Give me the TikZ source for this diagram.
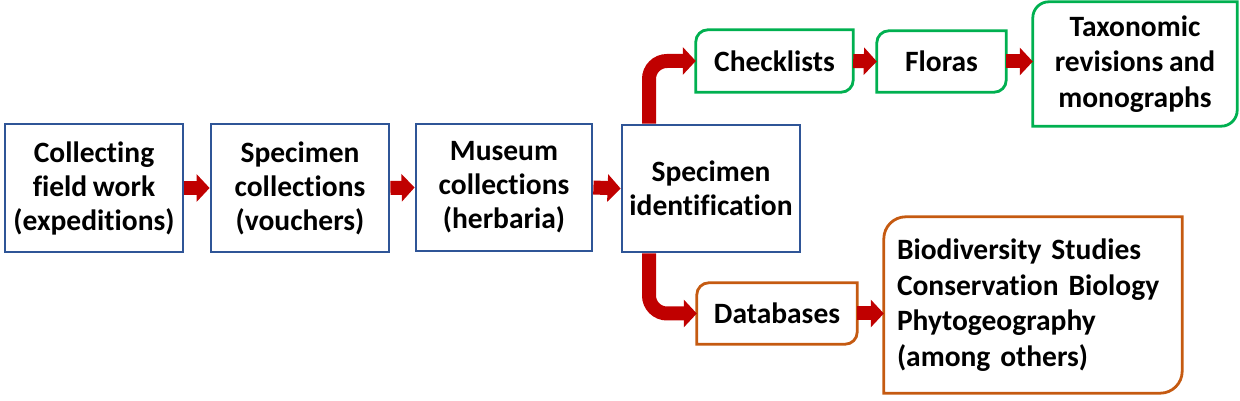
\documentclass[tikz,border=0pt]{standalone}
\usepackage{fontspec}
\setmainfont{Carlito}[Ligatures=NoCommon, WordSpace=0.85]
\usetikzlibrary{arrows.meta,calc}
\definecolor{boxblue}{RGB}{47,85,151}
\definecolor{boxgreen}{RGB}{0,176,80}
\definecolor{boxorange}{RGB}{197,90,17}
\definecolor{arrred}{RGB}{192,0,0}
\tikzset{
  txt/.style={font=\fontsize{29.5}{34}\selectfont\bfseries, align=center, inner sep=0pt},
  widetxt/.style={font=\fontsize{29.5}{35.5}\selectfont\bfseries},
  bluebox/.style={txt, draw=boxblue, line width=2.8pt},
  plainbox/.style={txt},
  blockarrow/.style={draw=arrred, line width=14pt, -{Triangle[length=13pt,width=27pt]}},
  bentarrow/.style={blockarrow, rounded corners=18pt},
}
\newcommand\diagframe[3]{% node, colour, radius
  \draw[#2, line width=2.8pt]
    ([yshift=-#3]#1.north west) arc[start angle=180,end angle=90,radius=#3]
    -- (#1.north east) -- ([yshift=#3]#1.south east)
    arc[start angle=0,end angle=-90,radius=#3] -- (#1.south west) -- cycle;}
\begin{document}
\begin{tikzpicture}[x=1pt,y=1pt]
\useasboundingbox (0,0) rectangle (1240,401);
\node[bluebox, minimum width=178pt, minimum height=128pt] (b1) at (94,213) {Collecting\\field work\\(expeditions)};
\node[bluebox, minimum width=178pt, minimum height=128pt] (b2) at (300,213) {Specimen\\collections\\(vouchers)};
\node[bluebox, minimum width=176pt, minimum height=127pt] (b3) at (504,213.5) {Museum\\collections\\(herbaria)};
\node[bluebox, minimum width=178pt, minimum height=127pt] (b4) at (711,212.5) {Specimen\\identification};
\node[plainbox, minimum width=157pt, minimum height=62pt] (chk) at (774.5,340) {Checklists};
\node[plainbox, minimum width=129pt, minimum height=61pt] (flo) at (941.5,339.5) {Floras};
\node[plainbox, widetxt, minimum width=204pt, minimum height=124pt] (tax) at (1135,337) {Taxonomic\\revisions and\\monographs};
\node[plainbox, minimum width=160pt, minimum height=61pt] (db) at (777,87.5) {Databases};
\node[plainbox, widetxt, minimum width=298pt, minimum height=176pt, align=left, text width=272pt] (bio) at (1033,96) {Biodiversity Studies\\Conservation Biology\\Phytogeography\\(among others)};
\diagframe{chk}{boxgreen}{12pt}
\diagframe{flo}{boxgreen}{12pt}
\diagframe{tax}{boxgreen}{16pt}
\diagframe{db}{boxorange}{12pt}
\diagframe{bio}{boxorange}{22pt}
\draw[blockarrow] (b1.east) -- (b2.west);
\draw[blockarrow] (b2.east) -- (b3.west);
\draw[blockarrow] (b3.east) -- (b4.west);
\draw[blockarrow] (chk.east) -- (flo.west);
\draw[blockarrow] (flo.east) -- (flo.east -| tax.west);
\draw[blockarrow] (db.east) -- (db.east -| bio.west);
\draw[bentarrow] ([xshift=-62pt]b4.north) |- (chk.west);
\draw[bentarrow] ([xshift=-62pt]b4.south) |- (db.west);
\end{tikzpicture}
\end{document}
